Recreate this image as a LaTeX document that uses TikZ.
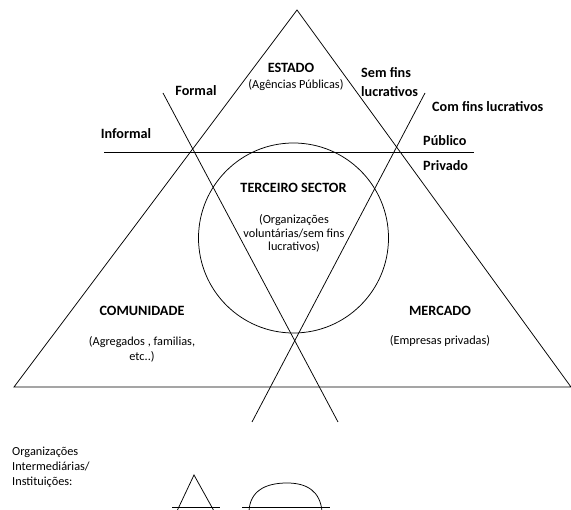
\documentclass[tikz,border=0pt]{standalone}
\usepackage{fontspec}
\setmainfont{Carlito}
\begin{document}
\begin{tikzpicture}[x=1pt,y=-1pt,
  edge/.style={draw=black,line width=0.75pt},
  blbl/.style={inner sep=0pt,font=\fontsize{14.2}{19}\selectfont\bfseries},
  note/.style={inner sep=0pt,align=center,font=\fontsize{12.3}{15}\selectfont}]
\useasboundingbox (0,0) rectangle (571,510);

% main triangle
\coordinate (apex) at (297,10);
\coordinate (bl) at (14,387);
\coordinate (br) at (571,387);
\draw[edge,line join=miter] (apex) -- (bl) -- (br) -- cycle;

% public / private divide
\coordinate (hpL) at (104,152);
\coordinate (hpR) at (474,152);
\draw[edge] (hpL) -- (hpR);

% formal and for-profit divides
\coordinate (fTop) at (163,93);
\coordinate (fBot) at (338,422);
\coordinate (cTop) at (425,93);
\coordinate (cBot) at (252,422);
\draw[edge] (fTop) -- (fBot);
\draw[edge] (cTop) -- (cBot);

% third sector
\node[edge,circle,minimum size=190pt,inner sep=0pt] (ts) at (293.5,238) {};

% labels
\node[blbl] (estado) at (291,68) {ESTADO};
\node[note] (estadoN) at (296,85) {(Agências Públicas)};
\node[blbl] (formal) at (196,91) {Formal};
\node[blbl] (informal) at (126,134) {Informal};
\node[blbl,anchor=west,align=left] (semfins) at (361,82.5) {Sem fins\\lucrativos};
\node[blbl,anchor=west] (comfins) at (432,107) {Com fins lucrativos};
\node[blbl,anchor=west] (publico) at (423,141) {Público};
\node[blbl,anchor=west] (privado) at (423,166) {Privado};
\node[blbl] (terceiro) at (293.5,188) {TERCEIRO SECTOR};
\node[note,font=\fontsize{12.3}{13.8}\selectfont] (terceiroN) at (294,233.5) {(Organizações\\voluntárias/sem fins\\lucrativos)};
\node[blbl] (comunidade) at (142,311) {COMUNIDADE};
\node[note] (comunidadeN) at (142,349.5) {(Agregados , familias,\\etc..)};
\node[blbl] (mercado) at (440,311) {MERCADO};
\node[note] (mercadoN) at (440,341) {(Empresas privadas)};

% legend
\node[note,anchor=west,align=left] (legend) at (12,467) {Organizações\\Intermediárias/\\Instituições:};

\coordinate (tA) at (194,475);
\coordinate (tL) at (177,511);
\coordinate (tR) at (214,511);
\coordinate (tlL) at (172,507);
\coordinate (tlR) at (220,507);
\draw[edge,line join=miter] (tL) -- (tA) -- (tR);
\draw[edge] (tlL) -- (tlR);

\coordinate (dL) at (249,511);
\coordinate (dT) at (287,483);
\coordinate (dR) at (322,511);
\coordinate (dlL) at (242,507);
\coordinate (dlR) at (330,507);
\draw[edge] (dL) .. controls (250,492) and (264,483) .. (dT) .. controls (308,483) and (320,492) .. (dR);
\draw[edge] (dlL) -- (dlR);
\end{tikzpicture}
\end{document}
